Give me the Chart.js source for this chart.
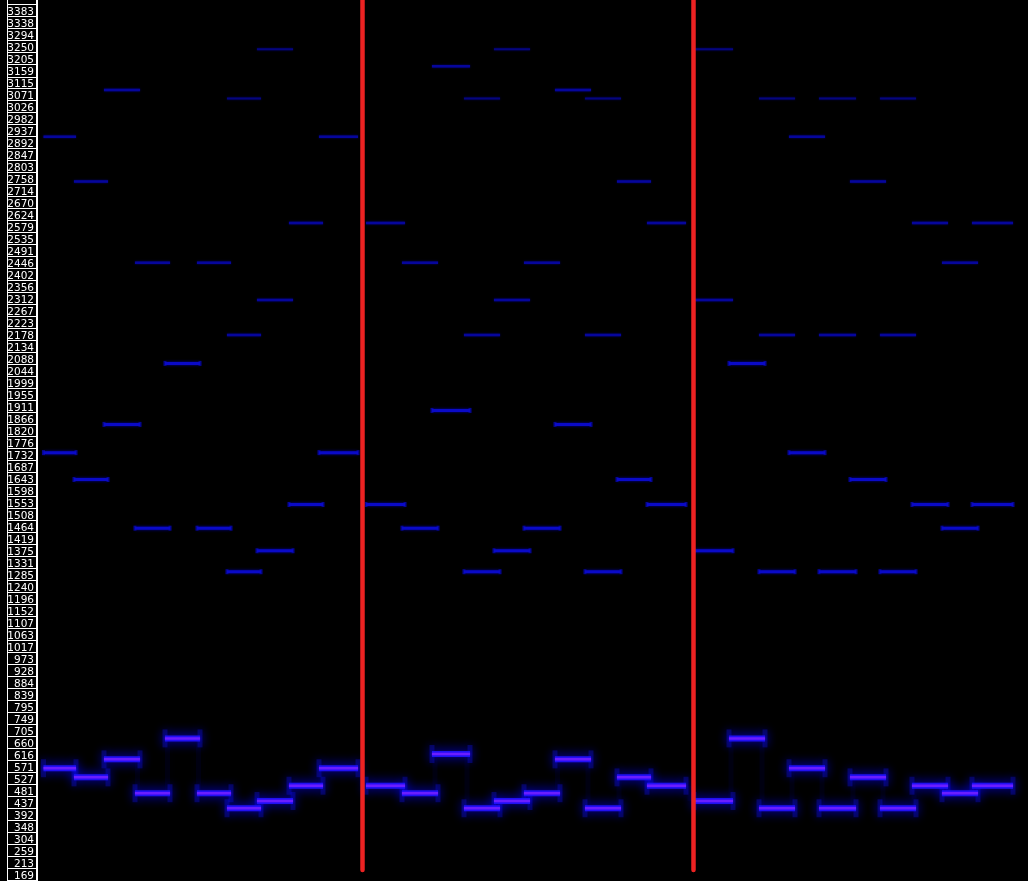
<!DOCTYPE html>
<html lang="en">
<head>
<meta charset="UTF-8">
<title>Pitch trace</title>
<script src="https://cdn.jsdelivr.net/npm/chart.js@4.4.0/dist/chart.umd.min.js"></script>
<style>
    html, body { margin: 0; padding: 0; background: #000; overflow: hidden; }
    #wrap { position: relative; width: 1028px; height: 881px; }
</style>
</head>
<body>
<div id="wrap"><canvas id="trace"></canvas></div>
<script>
// frequency labels in the left column (Hz)
const freqLabels = [3383, 3338, 3294, 3250, 3205, 3159, 3115, 3071, 3026, 2982,
    2937, 2892, 2847, 2803, 2758, 2714, 2670, 2624, 2579, 2535,
    2491, 2446, 2402, 2356, 2312, 2267, 2223, 2178, 2134, 2088,
    2044, 1999, 1955, 1911, 1866, 1820, 1776, 1732, 1687, 1643,
    1598, 1553, 1508, 1464, 1419, 1375, 1331, 1285, 1240, 1196,
    1152, 1107, 1063, 1017, 973, 928, 884, 839, 795, 749,
    705, 660, 616, 571, 527, 481, 437, 392, 348, 304,
    259, 213, 169];

// notes: onset / offset (frames) and fundamental (Hz)
const noteOn  = [3.5, 34, 64, 95, 125, 157, 187, 217, 249, 279,
    326, 362, 392, 424, 454, 484, 515, 545, 577, 607,
    654, 689, 719, 749, 779, 810, 840, 872, 902, 932];
const noteOff = [36, 68, 100, 130, 160, 191, 221, 253, 283, 318,
    365, 398, 430, 460, 490, 520, 551, 581, 611, 646,
    693, 725, 755, 785, 816, 846, 876, 908, 938, 973];
const noteHz  = [571, 537, 604, 478, 682, 478, 422, 449, 506, 571,
    506, 478, 624, 422, 449, 478, 604, 422, 537, 506,
    449, 682, 422, 571, 422, 537, 422, 506, 478, 506];

// overtone rows seen above each fundamental level
const pitchLevels = [682, 624, 604, 571, 537, 506, 478, 449, 422];
const partial1 = [2077, 1902, 1850, 1745, 1645, 1552, 1464, 1380, 1302];
const partial2 = [null, 3182, 3094, 2920, 2754, 2599, 2451, 2313, 2183];
const partial3 = [null, null, null, null, null, null, null, 3246, 3062];

// bar lines (frames) and where they stop at the bottom (Hz)
const barLines = [322.5, 653.5];
const barBottomHz = 192;

// build a broken line: one flat piece per note
function notePieces(values) {
    const pts = [];
    noteOn.forEach((on, i) => {
        const v = values[i];
        if (v == null) return;
        pts.push({x: on, y: v}, {x: noteOff[i], y: v}, {x: noteOff[i] + 0.5, y: null});
    });
    return pts;
}

function partialFor(row) {
    return noteHz.map(f => row[pitchLevels.indexOf(f)]);
}

// end points of every piece of a row (for the flared ends)
function noteEnds(values) {
    const pts = [];
    noteOn.forEach((on, i) => {
        const v = values[i];
        if (v == null) return;
        pts.push({x: on, y: v}, {x: noteOff[i], y: v});
    });
    return pts;
}

// faint vertical joins between consecutive notes
const joinPts = [];
for (let i = 0; i < noteOn.length - 1; i++) {
    const x = (noteOff[i] + noteOn[i + 1]) / 2;
    joinPts.push({x: x, y: noteHz[i]}, {x: x, y: noteHz[i + 1]}, {x: x, y: null});
}

const barPts = [];
barLines.forEach(x => {
    barPts.push({x: x, y: barBottomHz}, {x: x, y: 3500}, {x: x, y: null});
});

// shadow glow around a dataset
const glowPlugin = {
    id: 'glow',
    beforeDatasetDraw(chart, args) {
        const ds = chart.data.datasets[args.index];
        if (!ds.glow) return;
        const ctx = chart.ctx;
        ctx.save();
        ctx.shadowColor = ds.glow.color;
        ctx.shadowBlur = ds.glow.blur;
    },
    afterDatasetDraw(chart, args) {
        const ds = chart.data.datasets[args.index];
        if (!ds.glow) return;
        chart.ctx.restore();
    }
};

// white boxes of the label column
const labelBoxes = {
    id: 'labelBoxes',
    afterDraw(chart) {
        const ctx = chart.ctx;
        const y = chart.scales.y;
        ctx.save();
        ctx.strokeStyle = '#ffffff';
        ctx.lineWidth = 1;
        ctx.beginPath();
        ctx.moveTo(7.5, 0);
        ctx.lineTo(7.5, chart.height);
        const first = y.getPixelForValue(freqLabels[0]) - 12;
        const rows = [first].concat(freqLabels.map(v => y.getPixelForValue(v)));
        rows.forEach(p => {
            const yy = Math.round(p + 4) + 0.5;
            ctx.moveTo(8, yy);
            ctx.lineTo(37, yy);
        });
        ctx.stroke();
        ctx.lineWidth = 2;
        ctx.beginPath();
        ctx.moveTo(37, 0);
        ctx.lineTo(37, chart.height);
        ctx.stroke();
        ctx.restore();
    }
};

new Chart(document.getElementById('trace'), {
    type: 'line',
    data: {
        datasets: [
            {
                label: 'bars', data: barPts, order: 0,
                borderColor: '#ec2222', borderWidth: 4.5, borderCapStyle: 'round',
                pointRadius: 0
            },
            {
                label: 'fundamental', data: notePieces(noteHz), order: 1,
                borderColor: '#6a1eff', borderWidth: 2.5,
                pointRadius: 0, glow: {color: '#4400ff', blur: 3}
            },
            {
                label: 'fundamental glow', data: notePieces(noteHz), order: 2,
                borderColor: 'rgba(24,24,255,0.9)', borderWidth: 6,
                pointRadius: 0, glow: {color: '#0000ff', blur: 12}
            },
            {
                label: 'flares', data: noteEnds(noteHz), order: 3, showLine: false,
                pointStyle: 'line', rotation: 90, pointRadius: 9,
                pointBorderWidth: 5, pointBorderColor: 'rgba(20,20,255,0.3)',
                glow: {color: 'rgba(0,0,255,1)', blur: 10}
            },
            {
                label: 'joins', data: joinPts, order: 4,
                borderColor: 'rgba(0,0,255,0.06)', borderWidth: 5,
                pointRadius: 0, glow: {color: 'rgba(0,0,255,0.5)', blur: 8}
            },
            {
                label: 'partial 1', data: notePieces(partialFor(partial1)), order: 5,
                borderColor: '#0a0ac8', borderWidth: 3,
                pointRadius: 0, glow: {color: '#0000aa', blur: 3}
            },
            {
                label: 'partial 1 ends', data: noteEnds(partialFor(partial1)), order: 5, showLine: false,
                pointStyle: 'line', rotation: 90, pointRadius: 2.5,
                pointBorderWidth: 3, pointBorderColor: 'rgba(10,10,200,0.7)'
            },
            {
                label: 'partial 2', data: notePieces(partialFor(partial2)), order: 6,
                borderColor: '#06069c', borderWidth: 2.5,
                pointRadius: 0, glow: {color: '#000088', blur: 2}
            },
            {
                label: 'partial 3', data: notePieces(partialFor(partial3)), order: 7,
                borderColor: '#05057e', borderWidth: 2,
                pointRadius: 0, glow: {color: '#000070', blur: 2}
            }
        ]
    },
    options: {
        responsive: true,
        maintainAspectRatio: false,
        animation: false,
        devicePixelRatio: 1,
        events: [],
        layout: {padding: 0, autoPadding: false},
        plugins: {legend: {display: false}, tooltip: {enabled: false}},
        scales: {
            x: {type: 'linear', min: 0, max: 988, display: false},
            y: {
                type: 'linear', min: 151.5, max: 3428.75,
                afterBuildTicks: s => { s.ticks = freqLabels.map(v => ({value: v})); },
                afterFit: s => { s.width = 40; s.paddingTop = 0; s.paddingBottom = 0; },
                grid: {display: false, drawTicks: false},
                border: {display: false},
                ticks: {
                    color: '#ffffff', padding: 6, autoSkip: false,
                    font: {family: 'DejaVu Sans', size: 10.5},
                    callback: v => String(v)
                }
            }
        }
    },
    plugins: [glowPlugin, labelBoxes]
});
</script>
</body>
</html>
